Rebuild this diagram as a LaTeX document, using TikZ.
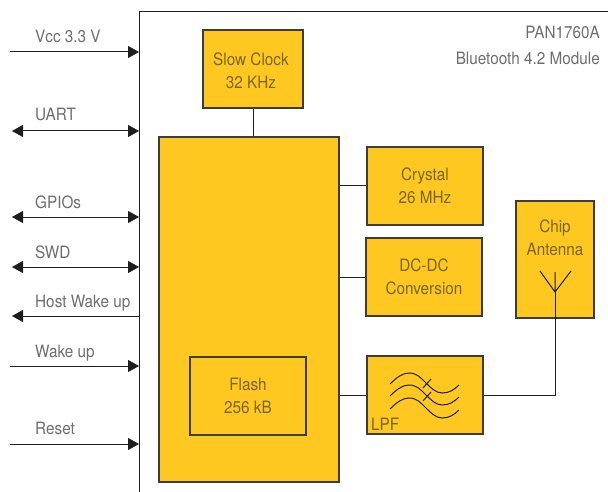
\documentclass[tikz,border=0pt]{standalone}
\usepackage{fontspec}
\setmainfont[FakeStretch=0.9]{TeX Gyre Heros}
\usetikzlibrary{arrows.meta}
\definecolor{block}{RGB}{255,200,32}
\definecolor{pen}{RGB}{60,60,60}
\definecolor{wire}{RGB}{30,30,30}
\definecolor{caption}{RGB}{110,110,110}
\definecolor{blocktext}{RGB}{122,102,24}
\tikzset{
  blockbox/.style={draw=pen, fill=block, line width=1.2pt, inner sep=0pt, text=blocktext,
    align=center, font=\fontsize{17}{23}\selectfont},
  blockname/.style={text=blocktext, inner sep=0pt, align=center, font=\fontsize{17}{23}\selectfont},
  port/.style={wire, line width=1pt, -{Triangle[length=11pt,width=12pt]}},
  portboth/.style={wire, line width=1pt, {Triangle[length=11pt,width=12pt]}-{Triangle[length=11pt,width=12pt]}},
  portname/.style={text=caption, anchor=base west, inner sep=0pt, font=\fontsize{17}{18}\selectfont},
  partname/.style={text=caption, anchor=east, inner sep=0pt, font=\fontsize{17}{18}\selectfont},
  link/.style={wire, line width=1pt},
}
\begin{document}
\begin{tikzpicture}[x=1pt, y=-1pt, line cap=butt, line join=miter]

  %========= geometry parameters =========
  \def\xM{139}        % left edge of the module
  \def\yM{12}         % top edge of the module
  \def\xT{35}         % left end of the port names
  \useasboundingbox (0,0) rectangle (608,492);

  %========= module outline =========
  \draw[wire, line width=1pt] (608,\yM) -- (\xM,\yM) -- (\xM,492);
  \node[partname] (partcode) at (600,32) {PAN1760A};
  \node[partname] (partkind) at (600,58) {Bluetooth 4.2 Module};

  %========= blocks =========
  \node[blockbox, minimum width=100pt, minimum height=78pt] (clock) at (253,69) {};
  \node[blockname] (clockname) at (251,70.5) {Slow Clock\\32 KHz};
  \node[blockbox, minimum width=180pt, minimum height=345pt] (core) at (249,309.5) {};
  \node[blockbox, minimum width=116pt, minimum height=78pt] (flash) at (248,396) {Flash\\256 kB};
  \node[blockbox, minimum width=116pt, minimum height=78pt] (crystal) at (425,186) {Crystal\\26 MHz};
  \node[blockbox, minimum width=116pt, minimum height=78pt] (dcdc) at (424,277) {DC-DC\\Conversion};
  \node[blockbox, minimum width=116pt, minimum height=78pt] (lpf) at (425,395) {};
  \node[blockbox, minimum width=78pt, minimum height=117pt] (antenna) at (555,259.5) {};
  \node[blockname] (antennaname) at (555,237.5) {Chip\\Antenna};
  \node[blockname, anchor=west] (lpfname) at (371,424) {LPF};

  %========= links =========
  \coordinate (stem) at (555,272);
  \coordinate (fork) at (555,292);
  \draw[link] (clock) -- (clock|-core.north);
  \draw[link] (crystal.west) -- (crystal.west-|core.east);
  \draw[link] (dcdc.west) -- (dcdc.west-|core.east);
  \draw[link] (lpf.west) -- (lpf.west-|core.east);
  \draw[link] (lpf.east) -| (fork);

  %========= antenna and filter symbols =========
  \draw[wire, line width=1pt] (540,271) -- (fork) -- (571,271) (stem) -- (fork);
  \foreach \dy in {0,12,25} {
    \draw[wire, line width=1pt, shift={(0,\dy)}] (390,384) .. controls (397,377) and (403,373) .. (409,373)
      .. controls (417,373) and (421,378) .. (426,383)
      .. controls (431,388) and (436,393) .. (442,393)
      .. controls (449,393) and (454,390) .. (459,385);
  }
  \foreach \dy in {0,13} {
    \draw[wire, line width=1pt, shift={(0,\dy)}] (423,388) -- (431,379);
  }

  %========= ports =========
  \foreach \name/\y/\yt/\txt/\kind/\xa/\xb in {
      vcc/52/43/Vcc 3.3 V/port/10/139,
      uart/131/121/UART/portboth/12/139,
      gpio/217/208/GPIOs/portboth/12/139,
      swd/267/258/SWD/portboth/12/139,
      hostwake/316/307/Host Wake up/port/139/12,
      wake/366/357/Wake up/port/10/139,
      reset/444/434/Reset/port/10/139} {
    \coordinate (\name a) at (\xa,\y);
    \coordinate (\name b) at (\xb,\y);
    \draw[\kind] (\name a) -- (\name b);
    \node[portname] (\name) at (\xT,\yt) {\txt};
  }
\end{tikzpicture}
\end{document}
